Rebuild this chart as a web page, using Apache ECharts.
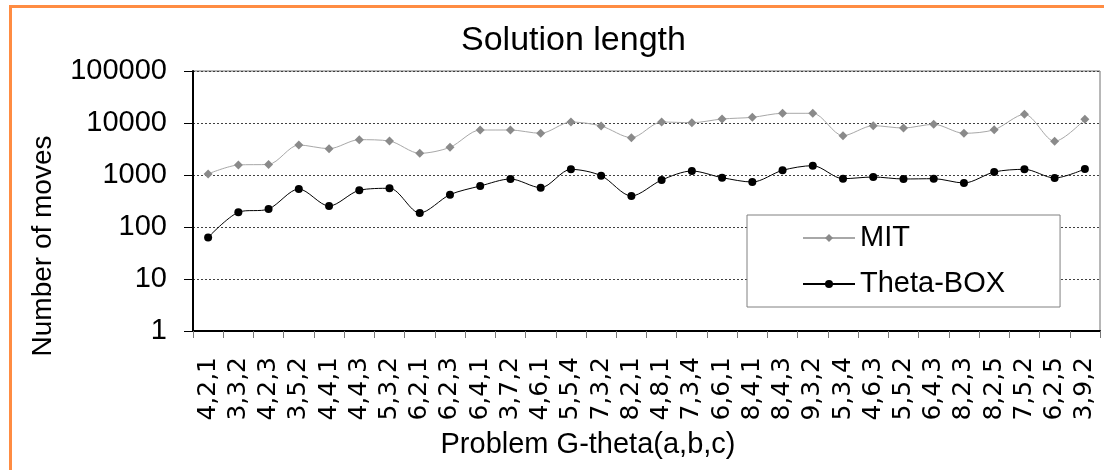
<!DOCTYPE html>
<html>
<head>
<meta charset="utf-8">
<script src="https://cdn.jsdelivr.net/npm/echarts@6/dist/echarts.min.js"></script>
<style>html,body{margin:0;padding:0;background:#fff}#c{width:1104px;height:470px}</style>
</head>
<body>
<div id="c"></div>
<script>
const categories = ['4,2,1','3,3,2','4,2,3','3,5,2','4,4,1','4,4,3','5,3,2','6,2,1','6,2,3','6,4,1','3,7,2','4,6,1','5,5,4','7,3,2','8,2,1','4,8,1','7,3,4','6,6,1','8,4,1','8,4,3','9,3,2','5,3,4','4,6,3','5,5,2','6,4,3','8,2,3','8,2,5','7,5,2','6,2,5','3,9,2'];
const mitValues = [1050, 1560, 1600, 3780, 3210, 4780, 4500, 2610, 3410, 7330, 7330, 6340, 10450, 8750, 5220, 10450, 10140, 11930, 12860, 15360, 15360, 5700, 8880, 8010, 9430, 6340, 7430, 14690, 4440, 11780];
const thetaBoxValues = [63, 192, 222, 538, 253, 508, 555, 186, 419, 614, 838, 570, 1286, 970, 395, 801, 1194, 889, 733, 1231, 1511, 849, 915, 838, 849, 702, 1142, 1286, 876, 1304];
const yTicks = [1, 10, 100, 1000, 10000, 100000];

const FONT = '"Liberation Sans", Arial, sans-serif';
const chart = echarts.init(document.getElementById('c'), null, {renderer: 'canvas'});
chart.setOption({
  animation: false,
  backgroundColor: '#ffffff',
  title: {
    text: 'Solution length',
    left: 461, top: 24, padding: 0,
    textStyle: {fontFamily: FONT, fontSize: 34, fontWeight: 'normal', color: '#000'}
  },
  legend: {
    orient: 'vertical',
    left: 747, top: 215,
    padding: [8, 55, 8, 55],
    itemGap: 16,
    itemWidth: 52, itemHeight: 10,
    borderColor: '#808080', borderWidth: 1,
    backgroundColor: '#fff',
    textStyle: {fontFamily: FONT, fontSize: 29, color: '#000', lineHeight: 30},
    data: ['MIT', 'Theta-BOX']
  },
  grid: {
    left: 193, top: 71, right: 4, bottom: 139,
    show: true, borderColor: '#707070', borderWidth: 1, backgroundColor: 'transparent'
  },
  xAxis: {
    type: 'category',
    data: categories,
    boundaryGap: true,
    axisLine: {lineStyle: {color: '#000', width: 2}},
    axisTick: {show: true, length: 7, interval: 0, lineStyle: {color: '#777'}},
    axisLabel: {rotate: 90, interval: 0, margin: 26, fontFamily: '"DejaVu Sans", sans-serif', fontSize: 25, color: '#000'},
    splitLine: {show: false}
  },
  yAxis: {
    type: 'log',
    logBase: 10,
    min: yTicks[0], max: yTicks[yTicks.length - 1],
    axisLine: {show: true, lineStyle: {color: '#000', width: 2}},
    axisTick: {show: true, length: 9, lineStyle: {color: '#000'}},
    axisLabel: {margin: 26, fontFamily: FONT, fontSize: 29, color: '#000', formatter: function (v) { return String(Math.round(v)); }},
    splitLine: {show: true, lineStyle: {color: '#404040', width: 1, type: [2, 2]}},
    minorTick: {show: false}
  },
  series: [
    {
      name: 'MIT', type: 'line', data: mitValues,
      smooth: 0.3,
      symbol: 'diamond', symbolSize: 9,
      lineStyle: {color: '#a8a8a8', width: 1},
      itemStyle: {color: '#8a8a8a'},
      z: 3
    },
    {
      name: 'Theta-BOX', type: 'line', data: thetaBoxValues,
      smooth: 0.3,
      symbol: 'circle', symbolSize: 8,
      lineStyle: {color: '#000', width: 1},
      itemStyle: {color: '#000'},
      z: 4
    }
  ],
  graphic: [
    {type: 'rect', shape: {x: 10.5, y: 6.5, width: 1200, height: 600}, style: {fill: 'none', stroke: '#FF8C42', lineWidth: 3}, silent: true, z: 100},
    {type: 'text', x: 43, y: 246, rotation: Math.PI / 2,
     style: {text: 'Number of moves', fontFamily: FONT, fontSize: 28, fill: '#000', textAlign: 'center', textVerticalAlign: 'middle'}},
    {type: 'text', x: 588, y: 445,
     style: {text: 'Problem G-theta(a,b,c)', fontFamily: FONT, fontSize: 29, fill: '#000', textAlign: 'center', textVerticalAlign: 'middle'}}
  ]
});
</script>
</body>
</html>
